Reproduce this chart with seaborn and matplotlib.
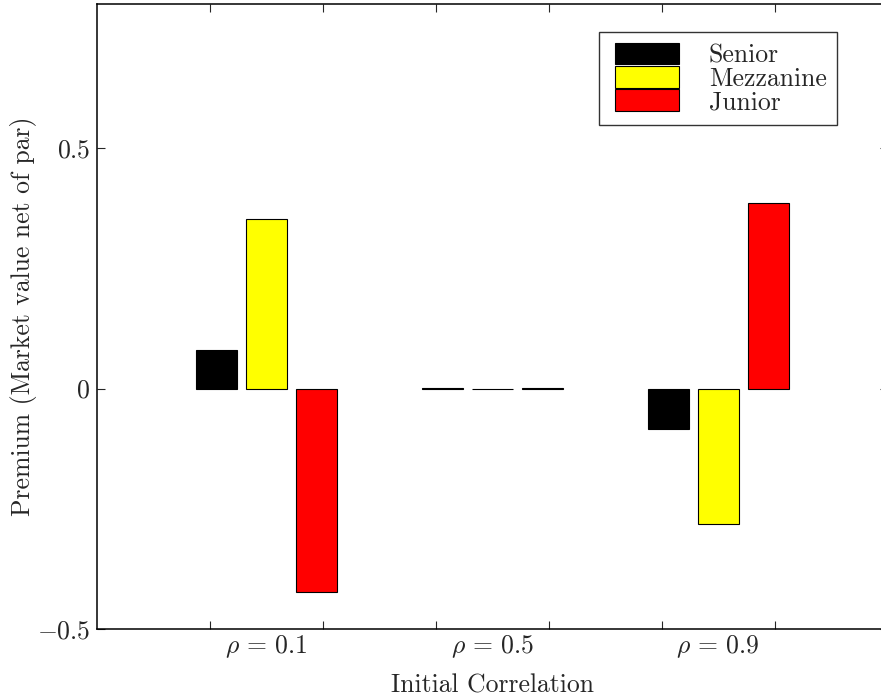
import matplotlib
matplotlib.use("Agg")
import matplotlib.pyplot as plt
import seaborn as sns
import pandas as pd
from matplotlib.patches import Patch
from matplotlib.legend_handler import HandlerPatch

# ---- data ----
categories = [r"$\rho\,=\,0.1$", r"$\rho\,=\,0.5$", r"$\rho\,=\,0.9$"]
tranches = ["Senior", "Mezzanine", "Junior"]
senior = [0.080, 0.0008, -0.085]
mezzanine = [0.352, -0.0008, -0.282]
junior = [-0.422, 0.0005, 0.387]
colors = ["#000000", "#ffff00", "#ff0000"]
yticks = [-0.5, 0, 0.5]
ytick_labels = [r"$-0.5$", r"$0$", r"$0.5$"]

rows = []
for name, vals in zip(tranches, [senior, mezzanine, junior]):
    for c, v in zip(categories, vals):
        rows.append({"corr": c, "tranche": name, "premium": v})
df = pd.DataFrame(rows)

sns.set_style("white")
plt.rcParams["font.family"] = ["cmr10", "DejaVu Serif"]
plt.rcParams["mathtext.fontset"] = "cm"
plt.rcParams["axes.unicode_minus"] = False
FS = 18.5

fig = plt.figure(figsize=(8.81, 6.96), dpi=100)
ax = fig.add_axes([97 / 881, 67 / 696, (887.5 - 97) / 881, (629 - 4) / 696])

sns.barplot(data=df, x="corr", y="premium", hue="tranche", order=categories,
            hue_order=tranches, palette=dict(zip(tranches, colors)),
            width=0.664, gap=0.18, edgecolor="black", linewidth=0.8,
            saturation=1, legend=False, ax=ax, errorbar=None)

ax.set_xlim(-0.75, 2.75)
ax.set_ylim(-0.5, 0.8)
ax.set_yticks(yticks)
ax.set_yticklabels(ytick_labels, fontsize=FS)
ax.set_xticks(range(len(categories)))
ax.set_xticklabels(categories, fontsize=FS)
ax.set_xticks([-0.25, 0.25, 0.75, 1.25, 1.75, 2.25], minor=True)
ax.tick_params(axis="x", which="major", length=0, pad=3)
ax.tick_params(axis="x", which="minor", direction="in", length=6, width=0.8,
               top=True, bottom=True)
ax.tick_params(axis="y", which="major", direction="in", length=6, width=0.8,
               pad=5, left=True, right=True)

for s in ax.spines.values():
    s.set_linewidth(1.1)
    s.set_color("black")

ax.set_xlabel("Initial Correlation", fontsize=FS, labelpad=10)
ax.set_ylabel("Premium (Market value net of par)", fontsize=FS, labelpad=0)

handles = [Patch(facecolor=c, edgecolor="black", linewidth=0.8) for c in colors]
leg = fig.legend(handles, tranches, loc="upper left",
                 bbox_to_anchor=(599 / 881, 1 - 32 / 696),
                 fontsize=FS, frameon=True, fancybox=False, shadow=False,
                 labelspacing=-0.055, handlelength=2.7, handleheight=0.92,
                 handletextpad=1.15, borderpad=0.42, borderaxespad=0,
                 handler_map={Patch: HandlerPatch(xpad=0.2)})
leg.get_frame().set_edgecolor("black")
leg.get_frame().set_linewidth(1.0)

fig.savefig("out.png", dpi=100)
